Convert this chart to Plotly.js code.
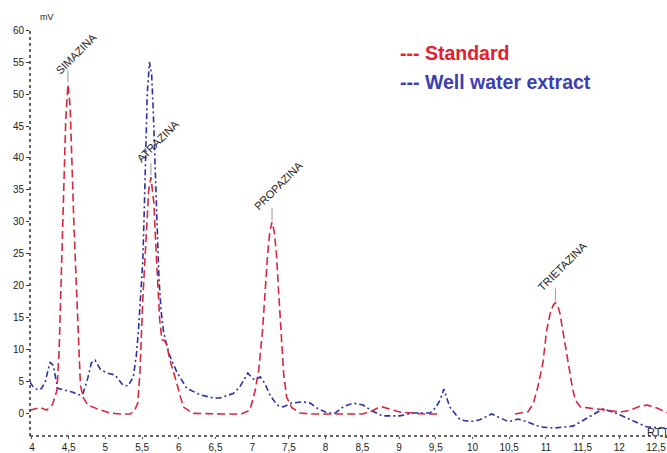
<!DOCTYPE html>
<html>
<head>
<meta charset="utf-8">
<script src="https://cdn.plot.ly/plotly-3.0.1.min.js"></script>
<style>html,body{margin:0;padding:0;background:#fff;}#chart{width:667px;height:453px;}</style>
</head>
<body>
<div id="chart"></div>
<script>
// Standard (red) chromatogram, retention time (min) and signal (mV)
var stdRT = [3.97,4.05,4.11,4.2,4.28,4.34,4.37,4.42,4.46,4.49,4.52,4.57,4.62,4.64,4.66,4.70,4.76,4.89,5.06,5.20,5.34,5.40,5.44,5.47,5.51,5.55,5.59,5.62,5.66,5.69,5.72,5.74,5.77,5.80,5.83,5.88,5.98,6.06,6.19,6.40,6.60,6.85,6.97,7.04,7.09,7.14,7.18,7.21,7.24,7.27,7.30,7.33,7.36,7.40,7.43,7.47,7.54,7.65,7.80,8.00,8.30,8.50,8.60,8.70,8.77,8.83,8.90,9.01,9.19,9.35,9.53,
  null,
  10.58,10.70,10.76,10.83,10.89,10.96,11.01,11.06,11.10,11.13,11.16,11.19,11.23,11.30,11.36,11.40,11.47,11.55,11.64,11.83,12.01,12.15,12.28,12.38,12.52,12.65];
var stdMV = [0.6,0.8,1.0,0.6,1.5,3.7,10,30,46,51.5,48,30,14,10,4.5,2.5,1.4,0.8,0.15,0,0,0.6,1.7,6.4,18,27.6,35,37,33,25.6,19.4,14.7,11.6,11.5,11,8.4,4.5,1.1,0.1,0,0,0,0.6,3.7,7,13,20,25,28.5,30,28.5,25,19,11,6,2.6,1.0,0.15,0,0,0,0,0.3,0.9,1.1,0.9,0.6,0.3,0.15,0,0,
  null,
  0,0.2,0.4,1.7,4.2,8,13,15.8,17,17.4,17,15.8,13,8,4.2,2.2,1.1,1.0,0.9,0.6,0.3,0.6,1.2,1.4,0.9,0.2];

// Well water extract (blue) chromatogram
var wellRT = [3.97,4.02,4.08,4.13,4.18,4.245,4.29,4.35,4.45,4.56,4.63,4.69,4.76,4.81,4.86,4.93,5.02,5.13,5.24,5.31,5.38,5.42,5.45,5.48,5.51,5.53,5.55,5.57,5.60,5.63,5.65,5.67,5.69,5.71,5.73,5.76,5.79,5.83,5.88,5.98,6.11,6.29,6.47,6.56,6.74,6.83,6.94,7.00,7.04,7.11,7.17,7.25,7.34,7.42,7.54,7.69,7.79,7.90,8.03,8.13,8.24,8.37,8.51,8.63,8.77,9.01,9.19,9.42,9.50,9.56,9.61,9.69,9.83,9.97,10.10,10.26,10.38,10.49,10.62,10.74,10.92,11.10,11.37,11.60,11.78,11.96,12.15,12.37,12.60,12.65];
var wellMV = [5.0,4.2,3.75,4.0,5.0,8.1,7.6,4.0,3.7,3.4,3.0,3.0,5.6,8.0,8.4,7.0,6.4,6.1,4.5,4.4,5.8,9,13,18,24,32,42,50,55,53,48,41,33,27,21,16,13,11,9,6.4,4.0,3.0,2.5,2.5,3.2,4.2,6.4,5.6,5.3,5.8,4.8,2.8,1.4,1.1,1.7,1.9,1.7,0.8,0.15,0.15,1.1,1.7,1.4,0.5,-0.3,-0.3,0.15,0.15,1.0,2.2,3.9,1.1,-0.9,-1.2,-0.9,0,-0.6,-1.2,-0.8,-1.2,-2.0,-2.2,-1.9,-0.4,0.8,0.1,-0.9,-2.0,-2.2,-2.3];

// Peak labels
var peakNames = ["SIMAZINA","ATRAZINA","PROPAZINA","TRIETAZINA"];
var peakRT = [4.49,5.62,7.27,11.13];

// Axis ticks
var xTickVals = [4,4.5,5,5.5,6,6.5,7,7.5,8,8.5,9,9.5,10,10.5,11,11.5,12,12.5];
var xTickText = ["4","4,5","5","5,5","6","6,5","7","7,5","8","8,5","9","9,5","10","10,5","11","11,5","12","12,5"];
var yTickVals = [0,5,10,15,20,25,30,35,40,45,50,55,60];

var seriesNames = ["Standard","Well water extract"];

function peakHeight(rt){
  var best = -Infinity;
  for (var i=0;i<stdRT.length;i++){
    if (stdRT[i]!==null && Math.abs(stdRT[i]-rt)<0.06 && stdMV[i]>best) best = stdMV[i];
  }
  return best;
}

var traces = [
  {x: wellRT, y: wellMV, type:'scatter', mode:'lines', name: seriesNames[1],
   line:{color:'#2b2fa8', width:1.6, dash:'6px,3px,2px,3px'}, connectgaps:false},
  {x: stdRT, y: stdMV, type:'scatter', mode:'lines', name: seriesNames[0],
   line:{color:'#d8283e', width:1.6, dash:'8px,4px'}, connectgaps:false}
];

var annotations = [];
var shapes = [];
var shifts = [[9,31],[7,36],[6,36],[7,37]];
for (var k=0;k<peakNames.length;k++){
  var h = peakHeight(peakRT[k]);
  annotations.push({x: peakRT[k], y: h, xref:'x', yref:'y', text: peakNames[k], showarrow:false,
    textangle:-45, xanchor:'center', yanchor:'middle', xshift: shifts[k][0], yshift: shifts[k][1],
    font:{family:'Liberation Sans, Arial, sans-serif', size:11, color:'#222'}});
  shapes.push({type:'line', xref:'x', yref:'y', x0: peakRT[k], x1: peakRT[k], y0: h+0.3, y1: h+2.2,
    line:{color:'#999', width:1}});
}
annotations.push({xref:'paper', yref:'paper', x:0.578, y:0.943, xanchor:'left', yanchor:'middle',
  text:'--- '+seriesNames[0], showarrow:false, font:{family:'Liberation Sans, Arial, sans-serif', size:19.5, color:'#e3202c', weight:'bold'}});
annotations.push({xref:'paper', yref:'paper', x:0.578, y:0.872, xanchor:'left', yanchor:'middle',
  text:'--- '+seriesNames[1], showarrow:false, font:{family:'Liberation Sans, Arial, sans-serif', size:19.5, color:'#3a40b2', weight:'bold'}});
annotations.push({xref:'paper', yref:'paper', x:0.0126, y:1.032, xanchor:'left', yanchor:'middle',
  text:'mV', showarrow:false, font:{family:'Liberation Sans, Arial, sans-serif', size:9, color:'#222'}});
annotations.push({xref:'paper', yref:'paper', x:0.9655, y:0.01, xanchor:'left', yanchor:'middle',
  text:'RT [min]', showarrow:false, font:{family:'Liberation Sans, Arial, sans-serif', size:11, color:'#222'}});

shapes.push({type:'line', xref:'paper', yref:'paper', x0:0, x1:0, y0:0, y1:1, line:{color:'#333', width:1.5, dash:'dot'}});
shapes.push({type:'line', xref:'paper', yref:'paper', x0:0, x1:1, y0:0, y1:0, line:{color:'#333', width:1.5, dash:'dot'}});

var layout = {
  width:667, height:453,
  margin:{l:30, r:0, t:30, b:17, pad:0},
  paper_bgcolor:'#fff', plot_bgcolor:'#fff',
  showlegend:false,
  font:{family:'Liberation Sans, Arial, sans-serif', size:10, color:'#222'},
  xaxis:{range:[3.973,12.65], tickvals:xTickVals, ticktext:xTickText, showgrid:false, zeroline:false,
    showline:false, ticks:'outside', ticklen:2, tickcolor:'#555', tickfont:{size:10, color:'#222'}},
  yaxis:{range:[-3.44,60], tickvals:yTickVals, showgrid:false, zeroline:false, showline:false,
    ticks:'outside', ticklen:3, tickcolor:'#333', tickfont:{size:10, color:'#222'}},
  annotations: annotations,
  shapes: shapes
};

Plotly.newPlot('chart', traces, layout, {displayModeBar:false, staticPlot:true});
</script>
</body>
</html>
